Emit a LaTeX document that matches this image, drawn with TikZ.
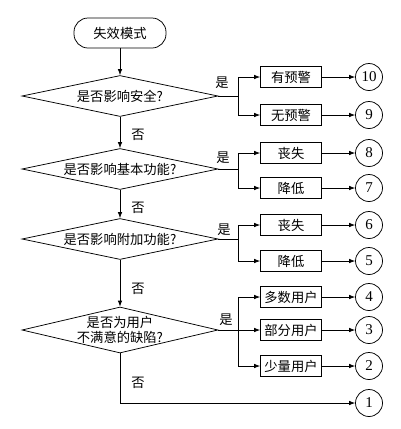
\documentclass[tikz,border=0pt]{standalone}
\usepackage{fontspec}
\setmainfont{Liberation Serif}
\newfontfamily\cjk{Noto Sans CJK SC}
\usetikzlibrary{shapes.geometric,arrows.meta}
\begin{document}
\begin{tikzpicture}[x=1pt,y=-1pt, line width=0.75pt,
  every node/.style={font=\cjk\fontsize{13.3}{15}\selectfont, inner sep=0pt},
  term/.style={draw, rounded corners=14pt, minimum width=92pt, minimum height=30pt},
  diam/.style={draw, diamond, minimum width=196pt, minimum height=41pt},
  box/.style={draw, minimum width=61pt, minimum height=21pt},
  num/.style={draw, circle, minimum size=27pt, font=\fontsize{15}{17}\selectfont},
  arr/.style={-{Latex[length=6pt,width=4.5pt]}}
]
\useasboundingbox (0,0) rectangle (400,429);

\node[term] (start) at (120,33) {失效模式};
\node[diam, label={center:是否影响安全?}] (d1) at (120,96) {};
\node[diam, label={center:是否影响基本功能?}] (d2) at (120,169) {};
\node[diam, label={center:是否影响附加功能?}] (d3) at (120,239) {};
\node[diam, minimum height=46pt, label={[align=center]center:{是否为用户\\不满意的缺陷?}}] (d4) at (120,330) {};

\node[box] (b1) at (291,77) {有预警};
\node[box] (b2) at (291,115) {无预警};
\node[box] (b3) at (291,153) {丧失};
\node[box] (b4) at (291,188) {降低};
\node[box] (b5) at (291,225) {丧失};
\node[box] (b6) at (291,261) {降低};
\node[box] (b7) at (291,297) {多数用户};
\node[box] (b8) at (291,330) {部分用户};
\node[box] (b9) at (291,366) {少量用户};

\node[num] (c10) at (369,77) {10};
\node[num] (c9) at (369,115) {9};
\node[num] (c8) at (369,153) {8};
\node[num] (c7) at (369,188) {7};
\node[num] (c6) at (369,225) {6};
\node[num] (c5) at (369,261) {5};
\node[num] (c4) at (369,297) {4};
\node[num] (c3) at (369,330) {3};
\node[num] (c2) at (369,366) {2};
\node[num] (c1) at (369,403) {1};

\coordinate (j1) at (238,96);
\coordinate (j2) at (238,169);
\coordinate (j3) at (238,239);
\coordinate (j4) at (238,330);

\draw[arr] (start) -- (d1);
\draw[arr] (d1) -- (d2);
\draw[arr] (d2) -- (d3);
\draw[arr] (d3) -- (d4);
\draw[arr] (d4.south) |- (c1);

\draw (d1.east) -- (j1);
\draw[arr] (j1) |- (b1);
\draw[arr] (j1) |- (b2);
\draw (d2.east) -- (j2);
\draw[arr] (j2) |- (b3);
\draw[arr] (j2) |- (b4);
\draw (d3.east) -- (j3);
\draw[arr] (j3) |- (b5);
\draw[arr] (j3) |- (b6);
\draw (d4.east) -- (j4);
\draw[arr] (j4) |- (b7);
\draw[arr] (j4) -- (b8);
\draw[arr] (j4) |- (b9);

\draw[arr] (b1) -- (c10);
\draw[arr] (b2) -- (c9);
\draw[arr] (b3) -- (c8);
\draw[arr] (b4) -- (c7);
\draw[arr] (b5) -- (c6);
\draw[arr] (b6) -- (c5);
\draw[arr] (b7) -- (c4);
\draw[arr] (b8) -- (c3);
\draw[arr] (b9) -- (c2);

\node (n1) at (138,135) {否};
\node (n2) at (138,208) {否};
\node (n3) at (138,289) {否};
\node (n4) at (138,383) {否};

\node (y1) at (222,83) {是};
\node (y2) at (223,158) {是};
\node (y3) at (224,230) {是};
\node (y4) at (226,320) {是};
\end{tikzpicture}
\end{document}
